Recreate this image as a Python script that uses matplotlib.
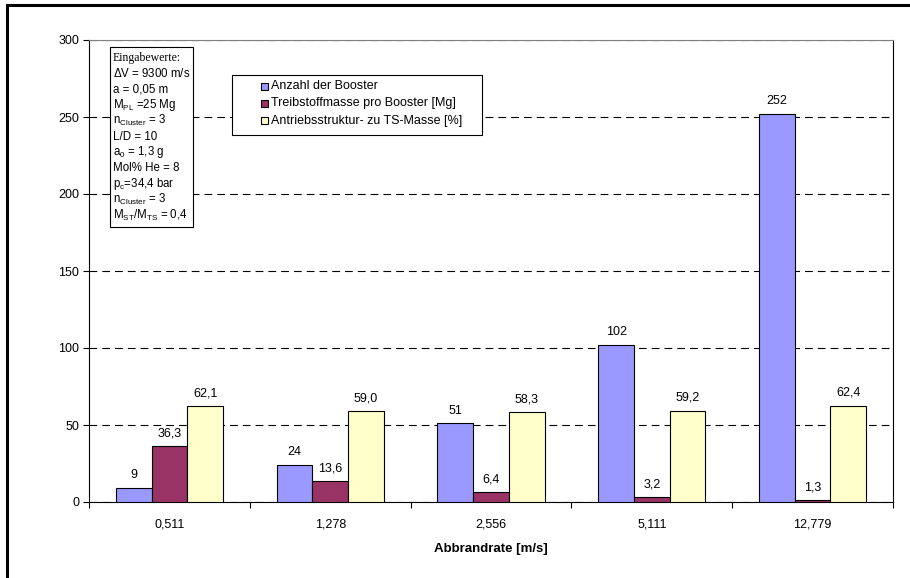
import matplotlib
matplotlib.use("Agg")
import matplotlib.pyplot as plt
from matplotlib.patches import Rectangle
import numpy as np

plt.rcParams['font.family'] = ['Liberation Sans', 'DejaVu Sans']
plt.rcParams['mathtext.fontset'] = 'custom'
plt.rcParams['mathtext.rm'] = 'Liberation Sans'
plt.rcParams['mathtext.it'] = 'Liberation Sans'
plt.rcParams['mathtext.default'] = 'regular'

categories = ["0,511", "1,278", "2,556", "5,111", "12,779"]
anzahl_booster = [9, 24, 51, 102, 252]
treibstoffmasse = [36.3, 13.6, 6.4, 3.2, 1.3]
struktur_anteil = [62.1, 59.0, 58.3, 59.2, 62.4]

series_labels = ["Anzahl der Booster",
                 "Treibstoffmasse pro Booster [Mg]",
                 "Antriebsstruktur- zu TS-Masse [%]"]
series_values = [anzahl_booster, treibstoffmasse, struktur_anteil]
series_colors = ["#9999FF", "#993366", "#FFFFCC"]
series_decimals = [0, 1, 1]

input_header = "Eingabewerte:"
input_lines = [
    r"$\Delta$V = 9300 m/s",
    "a = 0,05 m",
    r"M$_{PL}$ =25 Mg",
    r"n$_{Cluster}$ = 3",
    "L/D = 10",
    r"a$_{0}$ = 1,3 g",
    "Mol% He = 8",
    r"p$_{c}$=34,4 bar",
    r"n$_{Cluster}$ = 3",
    r"M$_{ST}$/M$_{TS}$ = 0,4",
]

W, H = 910, 578
fig = plt.figure(figsize=(W / 100, H / 100), dpi=100)


def fx(px):
    return px / W


def fy(py):
    return 1 - py / H


# outer frame around the whole chart
fig.patches.append(Rectangle((fx(7), -0.1), 1.2, fy(5) + 0.1, transform=fig.transFigure,
                             fill=False, edgecolor="black", linewidth=2.2, zorder=0))

ax = fig.add_axes([fx(89), fy(502), fx(893 - 89), (502 - 40) / H])

n = len(categories)
x = np.arange(n)
bw = 0.222
for k, (vals, color, dec) in enumerate(zip(series_values, series_colors, series_decimals)):
    pos = x + (k - 1) * bw
    bars = ax.bar(pos, vals, width=bw, color=color, edgecolor="black", linewidth=0.8,
                  zorder=3)
    for b, v in zip(bars, vals):
        txt = f"{v:.{dec}f}".replace(".", ",")
        ax.annotate(txt, (b.get_x() + b.get_width() / 2, b.get_height()),
                    xytext=(0, 5), textcoords="offset points", ha="center", va="bottom",
                    fontsize=9)

ax.set_xlim(-0.5, n - 0.5)
ax.set_ylim(0, 300)
ax.set_yticks(np.arange(0, 301, 50))
ax.yaxis.grid(True, linestyle=(0, (7, 4.5)), color="black", linewidth=0.8, zorder=1)
ax.set_axisbelow(True)

ax.set_xticks(np.arange(-0.5, n, 1.0))
ax.set_xticklabels([])
ax.set_xticks(x, minor=True)
ax.set_xticklabels(categories, minor=True)
ax.tick_params(axis="x", which="major", length=4, width=0.8, direction="out")
ax.tick_params(axis="x", which="minor", length=0, pad=12, labelsize=9)
ax.tick_params(axis="y", length=4, width=0.8, labelsize=9, pad=3)

ax.spines["top"].set_color("#808080")
ax.spines["top"].set_linewidth(0.8)
ax.spines["right"].set_color("black")
ax.spines["right"].set_linewidth(0.8)
ax.spines["left"].set_linewidth(0.8)
ax.spines["bottom"].set_linewidth(0.8)

ax.set_xlabel("Abbrandrate [m/s]", fontsize=9.5, fontweight="bold", labelpad=9)

# legend box
lx0, lx1, ly0, ly1 = 232, 482, 75, 135
fig.patches.append(Rectangle((fx(lx0), fy(ly1)), (lx1 - lx0) / W, (ly1 - ly0) / H,
                             transform=fig.transFigure, facecolor="white",
                             edgecolor="black", linewidth=0.8, zorder=4))
for i, (label, color) in enumerate(zip(series_labels, series_colors)):
    yc = 86 + i * 17.3
    fig.patches.append(Rectangle((fx(261), fy(yc + 3.5)), 7 / W, 7 / H,
                                 transform=fig.transFigure, facecolor=color,
                                 edgecolor="black", linewidth=0.8, zorder=5))
    fig.text(fx(271), fy(yc), label, fontsize=9, va="center", ha="left", zorder=6)

# box with the input parameters
bx0, bx1, by0, by1 = 110, 193, 47, 227
fig.patches.append(Rectangle((fx(bx0), fy(by1)), (bx1 - bx0) / W, (by1 - by0) / H,
                             transform=fig.transFigure, facecolor="white",
                             edgecolor="black", linewidth=0.8, zorder=4))
fig.text(fx(bx0 + 3), fy(58), input_header, family=["Liberation Serif"],
         fontsize=8.5, va="center", ha="left", zorder=6)
for i, line in enumerate(input_lines):
    fig.text(fx(bx0 + 3), fy(73.5 + i * 15.8), line, fontsize=8.3,
             va="center", ha="left", zorder=6)

fig.savefig("out.png", dpi=100)
